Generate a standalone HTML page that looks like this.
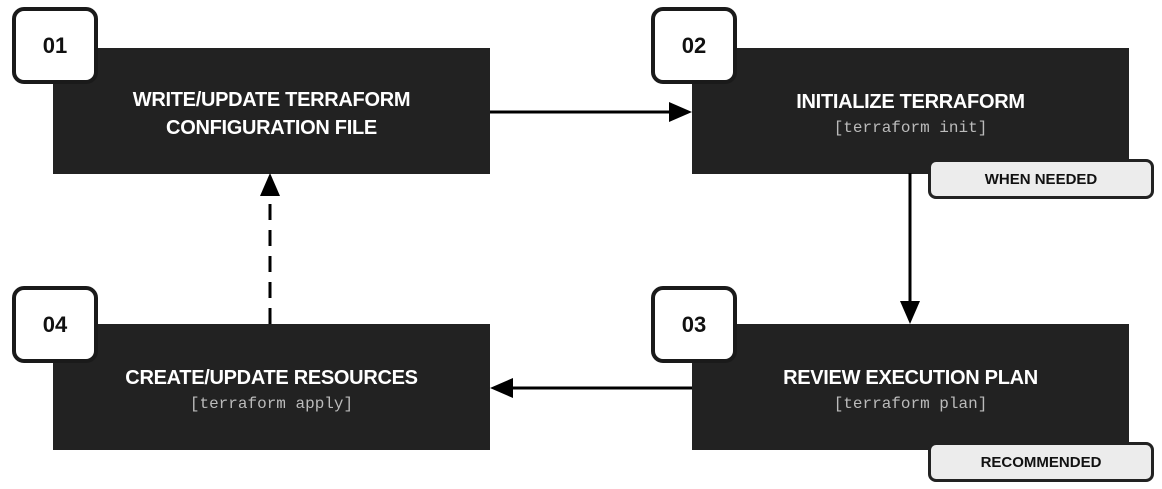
<!DOCTYPE html>
<html><head><style>
body{margin:0;width:1162px;height:489px;background:#fff;position:relative;overflow:hidden;font-family:"Liberation Sans",sans-serif}
.box{position:absolute;background:#222;width:437px;height:121px;padding-top:5px;color:#fff;text-align:center;display:flex;flex-direction:column;justify-content:center;align-items:center}
.t{font-weight:bold;font-size:20px;line-height:28px;letter-spacing:-0.3px}
.m{font-family:"Liberation Mono",monospace;color:#bbb;font-size:16px;line-height:24px}
.num{position:absolute;width:78px;height:69px;border:4px solid #1a1a1a;border-radius:12px;background:#fff;font-weight:bold;font-size:22px;display:flex;align-items:center;justify-content:center;color:#111}
.badge{position:absolute;width:220px;height:34px;border:3px solid #222;border-radius:8px;background:#ececec;font-weight:bold;font-size:15px;display:flex;align-items:center;justify-content:center;color:#111}
</style></head><body>
<div class="box" style="left:53px;top:48px"><div class="t">WRITE/UPDATE TERRAFORM<br>CONFIGURATION FILE</div></div>
<div class="box" style="left:692px;top:48px"><div class="t">INITIALIZE TERRAFORM</div><div class="m">[terraform init]</div></div>
<div class="box" style="left:692px;top:324px"><div class="t">REVIEW EXECUTION PLAN</div><div class="m">[terraform plan]</div></div>
<div class="box" style="left:53px;top:324px"><div class="t">CREATE/UPDATE RESOURCES</div><div class="m">[terraform apply]</div></div>
<div class="num" style="left:12px;top:7px">01</div>
<div class="num" style="left:651px;top:7px">02</div>
<div class="num" style="left:651px;top:286px">03</div>
<div class="num" style="left:12px;top:286px">04</div>
<svg width="1162" height="489" style="position:absolute;left:0;top:0">
<g stroke="#000" stroke-width="3" fill="none">
<line x1="490" y1="112" x2="672" y2="112"/>
<line x1="910" y1="173" x2="910" y2="304"/>
<line x1="692" y1="388" x2="510" y2="388"/>
<line x1="270" y1="324" x2="270" y2="193" stroke-dasharray="16,10"/>
</g>
<g fill="#000">
<polygon points="692,112 669,102 669,122"/>
<polygon points="910,324 900,301 920,301"/>
<polygon points="490,388 513,378 513,398"/>
<polygon points="270,173 260,196 280,196"/>
</g>
</svg>
<div class="badge" style="left:928px;top:159px">WHEN NEEDED</div>
<div class="badge" style="left:928px;top:442px">RECOMMENDED</div>
</body></html>
